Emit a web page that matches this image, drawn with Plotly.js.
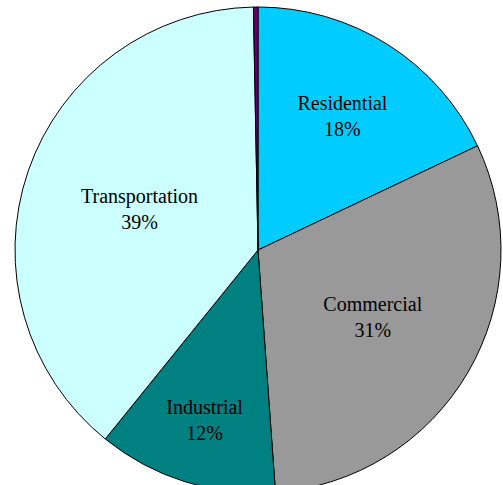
<!DOCTYPE html>
<html>
<head>
<meta charset="utf-8">
<script src="https://cdn.plot.ly/plotly-3.0.1.min.js"></script>
<style>
  html, body { margin: 0; padding: 0; background: #fff; overflow: hidden; }
</style>
</head>
<body>
<div id="pieChart"></div>
<script>
// energy use by sector
const sectors = ["Residential", "Commercial", "Industrial", "Transportation", "Other"];
const shares = [18, 31, 12, 39, 0.3];
const sliceColors = ["#00CCFF", "#999999", "#008080", "#CCFFFF", "#660066"];

// the tiny slice gets no label
const labelTemplates = sectors.map(s => s === "Other" ? "" : "%{label}<br>%{percent:.0%}");

const W = 503, H = 500;
const cx = 258, cy = 250, r = 243;
const serif = "Liberation Serif";

const data = [{
    type: "pie",
    labels: sectors,
    values: shares,
    sort: false,
    direction: "clockwise",
    rotation: 0,
    marker: {
        colors: sliceColors,
        line: { color: "#000000", width: 1 }
    },
    texttemplate: labelTemplates,
    textposition: "inside",
    insidetextorientation: "horizontal",
    insidetextfont: { family: serif, size: 20, color: "#000000" },
    hoverinfo: "none",
    domain: {
        x: [(cx - r) / W, (cx + r) / W],
        y: [(H - cy - r) / H, (H - cy + r) / H]
    }
}];

const layout = {
    width: W,
    height: H,
    margin: { l: 0, r: 0, t: 0, b: 0 },
    showlegend: false,
    paper_bgcolor: "#ffffff",
    font: { family: serif, color: "#000000" }
};

Plotly.newPlot("pieChart", data, layout, { staticPlot: true });
</script>
</body>
</html>
